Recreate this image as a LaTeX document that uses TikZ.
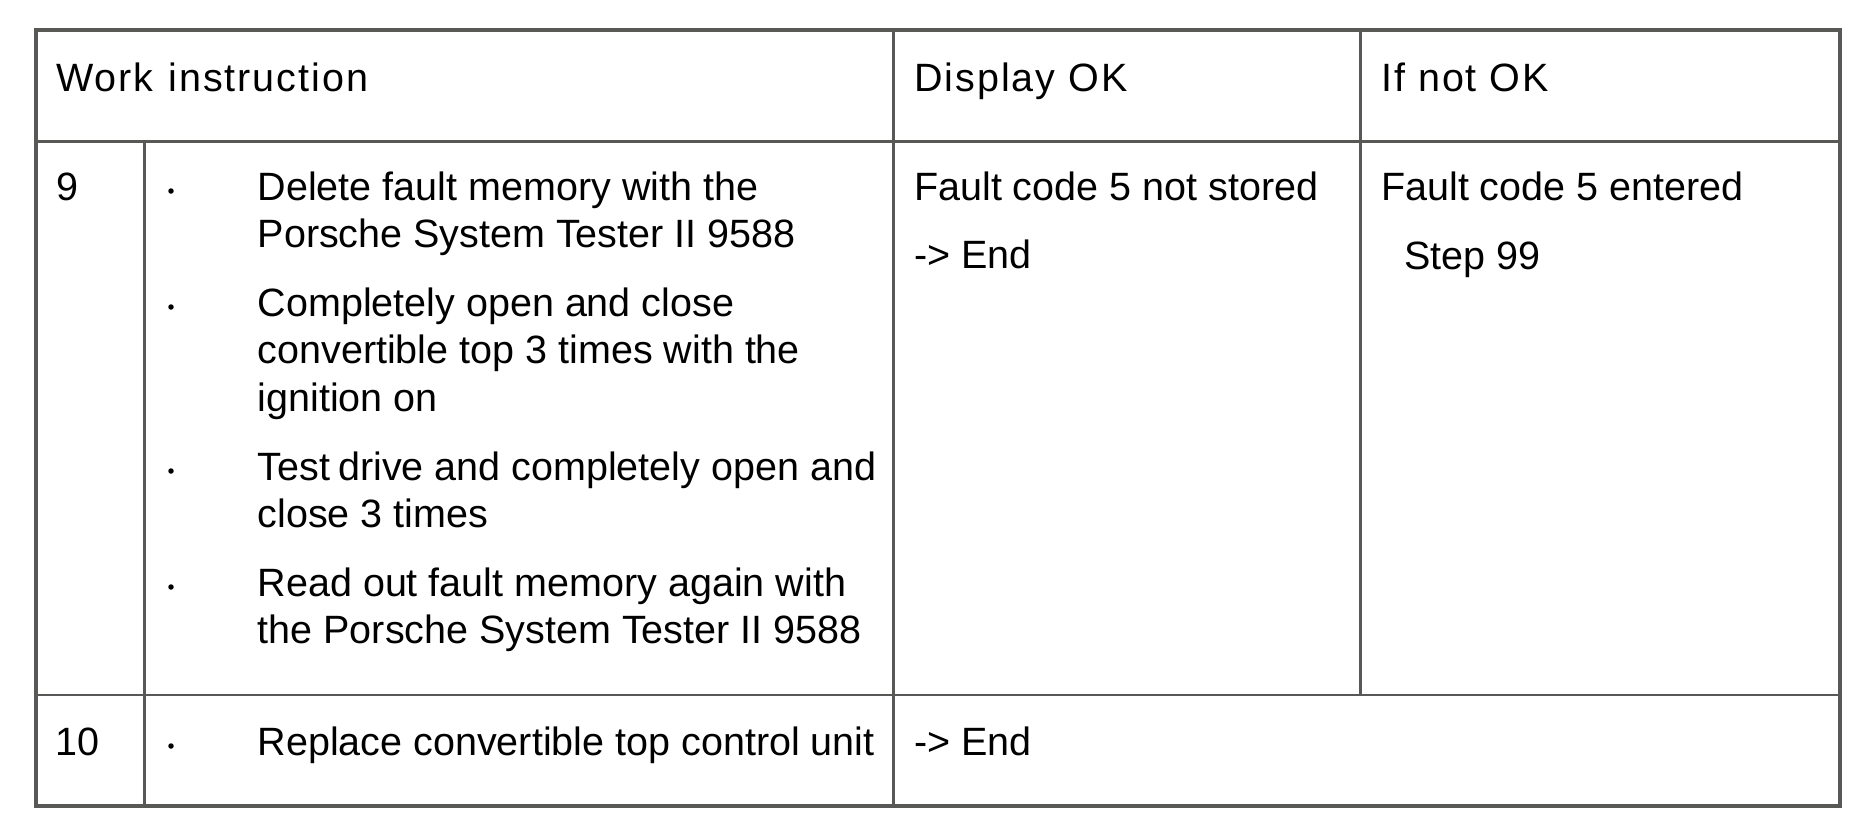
\documentclass[tikz,border=0pt]{standalone}
\usepackage{fontspec}
\setmainfont{Liberation Sans}
\newfontfamily\hdrfont[LetterSpace=5]{Liberation Sans}
\definecolor{rulegray}{RGB}{88,88,86}
\begin{document}
\begin{tikzpicture}[x=1pt,y=-1pt,
  txt/.style={anchor=base west, inner sep=0pt, font=\fontsize{39.5}{47}\selectfont},
  hdr/.style={anchor=base west, inner sep=0pt, font=\hdrfont\fontsize{39.5}{47}\selectfont},
  outerline/.style={draw=rulegray, line width=4pt},
  innerline/.style={draw=rulegray, line width=2.5pt},
  dotmark/.style={circle, fill=black, inner sep=0pt, minimum size=5.5pt}]
\useasboundingbox[fill=white] (0,0) rectangle (1876,831);
% grid
\draw[innerline] (36.5,141.5) -- (1839.5,141.5);
\draw[innerline] (36.5,695) -- (1839.5,695);
\draw[innerline] (144.5,141.5) -- (144.5,806);
\draw[innerline] (893.3,30) -- (893.3,806);
\draw[innerline] (1360.5,30) -- (1360.5,695);
\draw[outerline] (36.3,30.2) rectangle (1839.8,806.3);
% header
\node[hdr] (h1) at (56,91) {Work\hspace{2pt} instruction};
\node[hdr] (h2) at (914,91) {Display OK};
\node[hdr] (h3) at (1381,91) {If not OK};
% row 9
\node[txt] (n9) at (56.5,200) {9};
\node[dotmark] (b1) at (171,191) {};
\node[txt] (t1a) at (257.5,200) {Delete fault memory with the};
\node[txt] (t1b) at (257.5,247.5) {Porsche System Tester II 9588};
\node[dotmark] (b2) at (171,307) {};
\node[txt] (t2a) at (257.5,316) {Completely open and close};
\node[txt] (t2b) at (257.5,363.5) {convertible top 3 times with the};
\node[txt] (t2c) at (257.5,411) {ignition on};
\node[dotmark] (b3) at (171,471) {};
\node[txt] (t3a) at (257.5,480) {Test\hspace{-3pt} drive and completely open and};
\node[txt] (t3b) at (257.5,527.5) {close 3 times};
\node[dotmark] (b4) at (171,587) {};
\node[txt] (t4a) at (257.5,596) {Read out fault memory again with};
\node[txt] (t4b) at (257.5,643.5) {the Porsche System Tester II 9588};
\node[txt] (d1) at (914,200) {Fault code 5 not stored};
\node[txt] (d2) at (914,268) {-> End};
\node[txt] (f1) at (1381,200) {Fault code 5 entered};
\node[txt] (f2) at (1404,269) {Step 99};
% row 10
\node[txt] (n10) at (55,755) {10};
\node[dotmark] (b5) at (171,746) {};
\node[txt] (t5a) at (257.5,755) {Replace convertible top control unit};
\node[txt] (e1) at (914,755) {-> End};
\end{tikzpicture}
\end{document}
